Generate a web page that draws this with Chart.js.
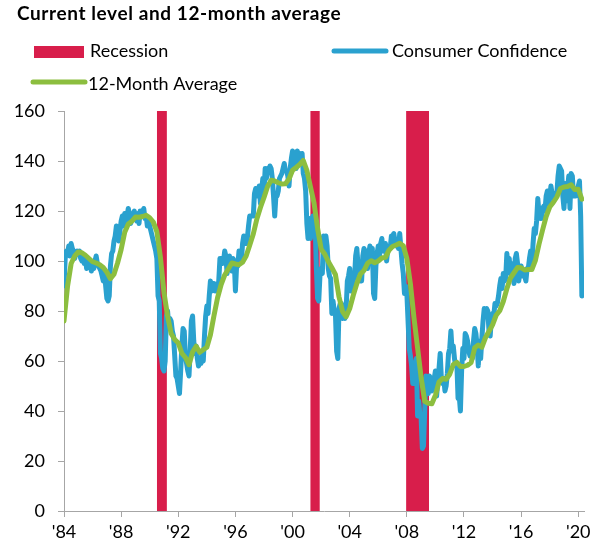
<!DOCTYPE html>
<html>
<head>
<meta charset="utf-8">
<title>Consumer Confidence</title>
<script src="https://cdn.jsdelivr.net/npm/chart.js@4.4.1/dist/chart.umd.min.js"></script>
<style>
  html, body { margin: 0; padding: 0; background: #fff; }
  #chart { display: block; }
</style>
</head>
<body>
<canvas id="chart" width="613" height="552"></canvas>
<script>
// Monthly index, Jan 1984 onwards
const START_YEAR = 1984;
const confidence = [
  90, 101, 104, 103, 106, 102, 107, 105, 104, 101, 103, 104,   // 1984
  103, 104, 101, 100, 102, 99, 101, 97, 98, 100, 99, 96,       // 1985
  99, 97, 100, 102, 99, 98, 97, 96, 94, 92, 96, 90,            // 1986
  85, 84, 86, 98, 103, 104, 108, 110, 114, 112, 108, 112,      // 1987
  116, 118, 114, 119, 115, 118, 121, 118, 115, 117, 119, 120,  // 1988
  117, 116, 119, 115, 120, 118, 119, 121, 117, 118, 114, 116,  // 1989
  114, 112, 110, 108, 106, 104, 101, 86, 84, 63, 61, 57,       // 1990
  56, 60, 78, 80, 74, 77, 76, 72, 70, 62, 54, 53,              // 1991
  50, 47, 56, 66, 73, 72, 62, 59, 56, 54, 64, 76,              // 1992
  78, 68, 63, 66, 61, 58, 59, 59, 62, 60, 70, 78,              // 1993
  82, 79, 86, 92, 88, 91, 91, 88, 89, 89, 92, 101,             // 1994
  101, 99, 100, 104, 102, 95, 101, 102, 97, 96, 101, 100,      // 1995
  88, 98, 98, 104, 103, 100, 107, 110, 108, 107, 109, 114,     // 1996
  118, 118, 118, 118, 127, 129, 126, 127, 130, 123, 128, 133,  // 1997
  128, 137, 133, 137, 136, 138, 137, 133, 126, 118, 126, 126,  // 1998
  128, 133, 134, 135, 137, 139, 136, 136, 134, 130, 137, 141,  // 1999
  144, 141, 137, 137, 144, 139, 143, 141, 143, 135, 133, 128,  // 2000
  115, 109, 117, 109, 116, 118, 116, 114, 97, 85, 84, 94,      // 2001
  97, 95, 110, 108, 110, 106, 97, 94, 93, 79, 84, 80,          // 2002
  79, 64, 61, 81, 83, 83, 77, 82, 77, 81, 92, 94,              // 2003
  97, 88, 88, 93, 93, 102, 105, 98, 96, 92, 92, 102,           // 2004
  105, 104, 103, 97, 103, 106, 103, 105, 87, 85, 98, 103,      // 2005
  106, 102, 107, 109, 104, 105, 107, 100, 105, 106, 105, 110,  // 2006
  110, 111, 108, 106, 108, 105, 111, 105, 99, 95, 87, 90,      // 2007
  87, 76, 65, 62, 58, 51, 51, 58, 61, 38, 44, 38,              // 2008
  37, 25, 26, 40, 54, 49, 47, 54, 53, 48, 50, 53,              // 2009
  56, 46, 52, 57, 63, 53, 51, 53, 48, 50, 55, 63,              // 2010
  65, 72, 64, 66, 61, 58, 59, 45, 46, 40, 56, 65,              // 2011
  61, 71, 70, 68, 64, 62, 65, 61, 68, 73, 71, 66,              // 2012
  58, 68, 61, 69, 76, 81, 80, 81, 80, 72, 70, 77,              // 2013
  79, 78, 83, 82, 83, 86, 90, 93, 89, 95, 92, 93,              // 2014
  103, 98, 101, 95, 94, 99, 91, 101, 103, 99, 92, 96,          // 2015
  98, 94, 96, 94, 92, 97, 97, 101, 104, 98, 107, 113,          // 2016
  111, 116, 125, 119, 117, 117, 121, 122, 120, 126, 128, 123,  // 2017
  125, 130, 127, 125, 127, 127, 127, 134, 138, 137, 136, 126,  // 2018
  121, 131, 124, 129, 134, 121, 135, 134, 126, 126, 126, 128,  // 2019
  130, 132, 118, 86                                            // 2020
];

// 12-month average, quarterly (Jan, Apr, Jul, Oct)
const average12m = [
  76, 90, 99, 102,               // 1984
  103.6, 103.3, 102.3, 101.0,    // 1985
  99.7, 99.2, 98.5, 97.4,        // 1986
  95.5, 92.9, 94.7, 99.2,        // 1987
  104.6, 111.5, 114.8, 115.9,    // 1988
  117.6, 117.5, 117.8, 118.3,    // 1989
  117.3, 115.6, 111.8, 101.5,    // 1990
  87.3, 78.0, 71.0, 68.6,        // 1991
  67.2, 63.1, 61.4, 58.5,        // 1992
  63.6, 65.9, 63.5, 64.5,        // 1993
  65.5, 70.5, 78.2, 85.3,        // 1994
  90.6, 94.4, 96.8, 99.2,        // 1995
  98.8, 98.5, 99.5, 102.0,       // 1996
  106.3, 110.8, 116.8, 121.4,    // 1997
  125.4, 129.8, 132.3, 132.0,    // 1998
  131.3, 130.8, 130.9, 132.8,    // 1999
  136.3, 137.4, 138.6, 140.2,    // 2000
  136.3, 129.7, 123.3, 113.1,    // 2001
  104.7, 102.8, 99.8, 97.3,      // 2002
  94.6, 85.7, 79.8, 77.7,        // 2003
  81.0, 86.3, 91.0, 94.8,        // 2004
  96.2, 99.1, 100.1, 99.3,       // 2005
  100.0, 101.2, 101.5, 104.3,    // 2006
  105.8, 106.4, 107.1, 106.1,    // 2007
  101.0, 90.8, 77.2, 65.3,       // 2008
  53.3, 43.9, 43.1, 42.9,        // 2009
  46.3, 51.6, 53.0, 52.7,        // 2010
  54.7, 58.6, 59.5, 57.8,        // 2011
  57.8, 58.3, 59.4, 65.3,        // 2012
  66.4, 65.5, 69.3, 71.9,        // 2013
  74.5, 78.3, 80.1, 83.8,        // 2014
  88.9, 93.2, 95.3, 97.4,        // 2015
  97.3, 96.4, 96.6, 96.6,        // 2016
  100.3, 106.7, 112.4, 117.8,    // 2017
  121.6, 123.4, 125.6, 129.0,    // 2018
  129.6, 129.8, 130.5, 128.6,    // 2019
  128.7, 124.7                   // 2020
];

// Recession periods (decimal years)
const recessionStart = [1990.5, 2001.25, 2007.95];
const recessionEnd = [1991.2, 2001.9, 2009.55];

const yearTicks = [1984, 1988, 1992, 1996, 2000, 2004, 2008, 2012, 2016, 2020];

const RED = '#D81E4B';
const BLUE = '#2AA1CF';
const GREEN = '#8CBE3F';
const AXIS = '#A6A6A6';
const FONT = 'Lato, "Open Sans", sans-serif';

// Build {x, y} points
const confidencePoints = confidence.map((v, i) => ({ x: START_YEAR + i / 12, y: v }));
const averagePoints = average12m.map((v, i) => ({ x: START_YEAR + i / 4, y: v }));
const recessionPoints = [];
recessionStart.forEach((s, i) => {
    const e = recessionEnd[i];
    recessionPoints.push({ x: s, y: 0 }, { x: s, y: 160 }, { x: e, y: 160 }, { x: e, y: 0 });
});

// Title and legend drawn in the top band
const headerPlugin = {
    id: 'header',
    afterDraw(chart, args, opts) {
        const ctx = chart.ctx;
        const ds = chart.data.datasets;
        ctx.save();
        ctx.fillStyle = '#000';
        ctx.textBaseline = 'alphabetic';
        ctx.font = 'bold 19px ' + FONT;
        ctx.letterSpacing = '0.6px';
        ctx.fillText(opts.text, 17, 20);
        ctx.letterSpacing = '0px';

        ctx.font = '18px ' + FONT;
        // Recession
        ctx.fillStyle = RED;
        ctx.fillRect(34, 46, 50, 12);
        ctx.fillStyle = '#000';
        ctx.fillText(ds[2].label, 90, 57);

        ctx.lineCap = 'round';
        ctx.lineWidth = 5;
        // Consumer Confidence
        ctx.strokeStyle = BLUE;
        ctx.beginPath();
        ctx.moveTo(334, 51);
        ctx.lineTo(386, 51);
        ctx.stroke();
        ctx.fillText(ds[1].label, 392, 57);
        // 12-Month Average
        ctx.strokeStyle = GREEN;
        ctx.beginPath();
        ctx.moveTo(33, 82);
        ctx.lineTo(85, 82);
        ctx.stroke();
        ctx.fillText(ds[0].label, 88, 90);
        ctx.restore();
    }
};

const chart = new Chart(document.getElementById('chart'), {
    type: 'line',
    data: {
        datasets: [
            {
                label: '12-Month Average',
                data: averagePoints,
                borderColor: GREEN,
                borderWidth: 5,
                pointRadius: 0,
                tension: 0,
                borderJoinStyle: 'round',
                borderCapStyle: 'round',
                order: 1
            },
            {
                label: 'Consumer Confidence',
                data: confidencePoints,
                borderColor: BLUE,
                borderWidth: 5,
                pointRadius: 0,
                tension: 0,
                borderJoinStyle: 'round',
                borderCapStyle: 'round',
                order: 2
            },
            {
                label: 'Recession',
                data: recessionPoints,
                borderWidth: 0,
                borderColor: 'rgba(0,0,0,0)',
                backgroundColor: RED,
                fill: 'origin',
                pointRadius: 0,
                tension: 0,
                order: 3
            }
        ]
    },
    options: {
        responsive: false,
        animation: false,
        events: [],
        layout: {
            padding: { top: 111, right: 29, left: 0, bottom: 0 }
        },
        plugins: {
            legend: { display: false },
            tooltip: { enabled: false },
            header: { text: 'Current level and 12-month average' }
        },
        scales: {
            x: {
                type: 'linear',
                min: 1984,
                max: 2020.4,
                afterBuildTicks: scale => {
                    scale.ticks = yearTicks.map(v => ({ value: v }));
                },
                afterFit: scale => { scale.height = 41; },
                ticks: {
                    autoSkip: false,
                    maxRotation: 0,
                    padding: 4,
                    color: '#000',
                    font: { family: FONT, size: 18 },
                    callback: v => "'" + String(v).slice(2)
                },
                grid: {
                    drawOnChartArea: false,
                    drawTicks: true,
                    tickLength: 6,
                    color: AXIS
                },
                border: { display: true, color: AXIS, width: 1 }
            },
            y: {
                min: 0,
                max: 160,
                afterFit: scale => { scale.width = 64; },
                ticks: {
                    stepSize: 20,
                    padding: 13,
                    color: '#000',
                    font: { family: FONT, size: 18 }
                },
                grid: {
                    drawOnChartArea: false,
                    drawTicks: true,
                    tickLength: 6,
                    color: AXIS
                },
                border: { display: true, color: AXIS, width: 1 }
            }
        }
    },
    plugins: [headerPlugin]
});
</script>
</body>
</html>
